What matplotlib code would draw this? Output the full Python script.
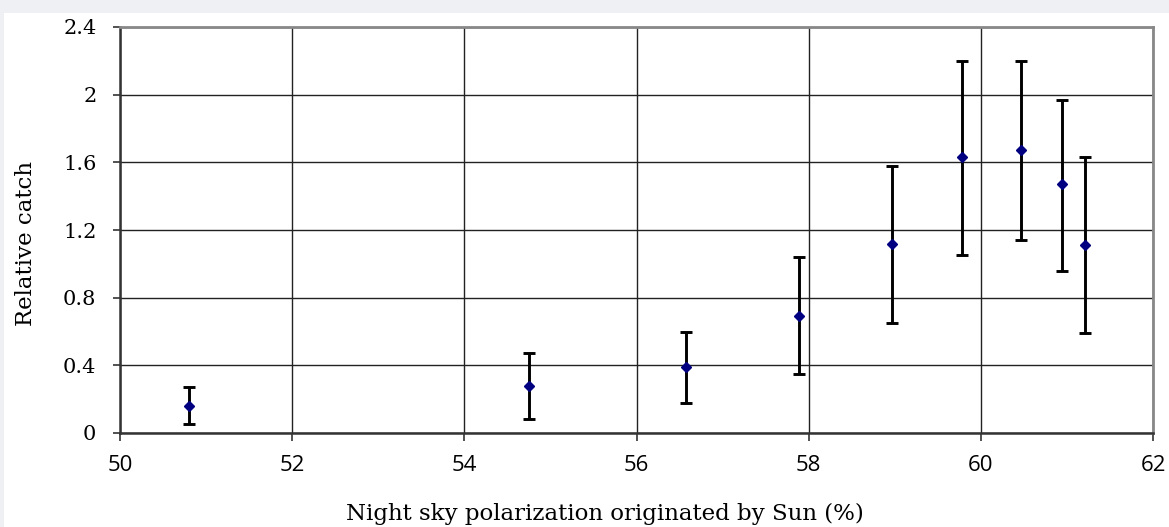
import matplotlib.pyplot as plt
from matplotlib.patches import Rectangle

# values
polarization = [50.8, 54.75, 56.57, 57.89, 58.97, 59.78, 60.47, 60.94, 61.21]
catch = [0.16, 0.28, 0.39, 0.69, 1.12, 1.63, 1.67, 1.47, 1.11]
err_high = [0.27, 0.47, 0.60, 1.04, 1.58, 2.20, 2.20, 1.97, 1.63]
err_low = [0.055, 0.08, 0.18, 0.35, 0.65, 1.05, 1.14, 0.96, 0.59]

x_ticks = [50, 52, 54, 56, 58, 60, 62]
y_ticks = [0, 0.4, 0.8, 1.2, 1.6, 2.0, 2.4]
y_tick_labels = ["0", "0.4", "0.8", "1.2", "1.6", "2", "2.4"]

yerr = [
    [c - lo for c, lo in zip(catch, err_low)],
    [hi - c for c, hi in zip(catch, err_high)],
]

fig = plt.figure(figsize=(11.69, 5.27), dpi=100)
fig.patch.set_facecolor("#eef0f3")
fig.patches.append(Rectangle((4 / 1169, 0), 1 - 4 / 1169, 1 - 13 / 527,
                             transform=fig.transFigure, facecolor="white",
                             edgecolor="none", zorder=-10))

ax = fig.add_axes([120 / 1169, 1 - 433 / 527, 1033 / 1169, 406 / 527])
ax.set_zorder(5)
ax.set_facecolor("white")

ax.errorbar(polarization, catch, yerr=yerr, fmt="D", color="#000080",
            markersize=5.5, ecolor="black", elinewidth=2.1, capsize=4.5,
            capthick=2.1, zorder=3)

ax.set_xlim(50, 62)
ax.set_ylim(0, 2.4)
ax.set_xticks(x_ticks)
ax.set_yticks(y_ticks)
ax.set_yticklabels(y_tick_labels, family="DejaVu Serif", fontsize=15)
ax.set_xticklabels([str(t) for t in x_ticks], family="Open Sans", fontsize=16)
ax.tick_params(axis="both", direction="out", width=1.2, color="#333333")
ax.tick_params(axis="x", length=6, pad=10)
ax.tick_params(axis="y", length=5, pad=12)

ax.grid(True, color="#222222", linewidth=1)
ax.set_axisbelow(True)

for side in ["left", "bottom"]:
    ax.spines[side].set_color("#333333")
    ax.spines[side].set_linewidth(1.8)
for side in ["top", "right"]:
    ax.spines[side].set_color("#888888")
    ax.spines[side].set_linewidth(2)

ax.set_xlabel("Night sky polarization originated by Sun (%)",
              family="DejaVu Serif", fontsize=16.5, va="center")
ax.xaxis.set_label_coords((605 - 120) / 1033, (433 - 514) / 406)
ax.set_ylabel("Relative catch", family="DejaVu Serif", fontsize=16.5, va="center")
ax.yaxis.set_label_coords((26 - 120) / 1033, (433 - 243) / 406)

fig.savefig("out.png", dpi=100, facecolor=fig.get_facecolor())
